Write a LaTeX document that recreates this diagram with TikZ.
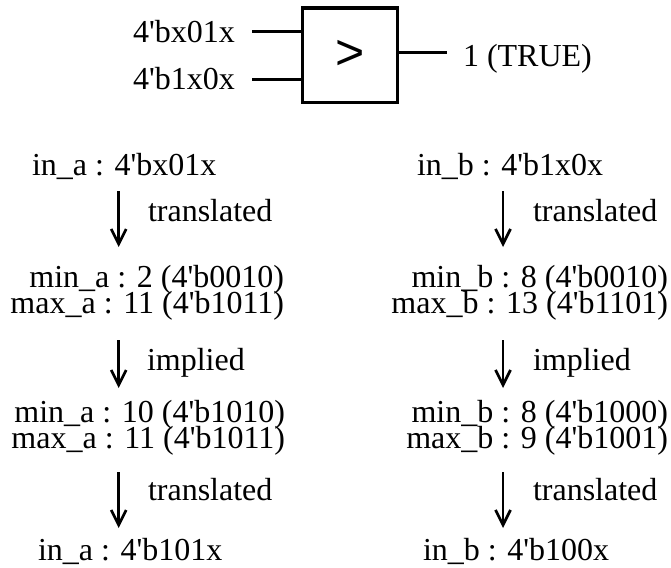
\documentclass[tikz,border=0pt]{standalone}
\usepackage{fontspec}
\newfontfamily\serifface{Liberation Serif}
\newfontfamily\sansface{Liberation Sans}
\usetikzlibrary{arrows.meta}
\begin{document}
\begin{tikzpicture}[x=1pt,y=-1pt,
  txt/.style={font=\serifface\fontsize{32}{26}\selectfont, inner sep=0pt, outer sep=0pt},
  flow/.style={line width=2.7pt, -{Straight Barb[length=15pt,width=15pt,line width=2.7pt]}},
  wire/.style={line width=3.3pt},
  gate/.style={draw, line width=3.3pt, minimum width=95pt, minimum height=94.3pt,
    inner sep=0pt, font=\sansface\fontsize{50}{50}\selectfont}]
\useasboundingbox (0,0) rectangle (671,567);

% comparator with its inputs and output
\node[gate] (cmp) at (349.7,55.2) {>};
\node[txt, anchor=base east] (ina0) at (235,43) {4'bx01x};
\node[txt, anchor=base east] (inb0) at (235,90) {4'b1x0x};
\node[txt, anchor=base west] (res) at (463,66.5) {1 (TRUE)};
\coordinate (w1) at (252,31.7);
\coordinate (w2) at (252,79.3);
\coordinate (w3) at (447,52.2);
\draw[wire] (w1) -- (w1 -| cmp.west);
\draw[wire] (w2) -- (w2 -| cmp.west);
\draw[wire] (w3 -| cmp.east) -- (w3);

% arrow columns
\coordinate (colA) at (118.7,0);
\coordinate (colB) at (503,0);

% left chain: in_a
\node[txt, anchor=base west] (ina) at (32,175) {in\_a : 4'bx01x};
\node[txt, anchor=base east] (mina) at (284,287) {min\_a : 2 (4'b0010)};
\node[txt, anchor=base east] (maxa) at (284,313) {max\_a : 11 (4'b1011)};
\node[txt, anchor=base east] (mina2) at (285,422) {min\_a : 10 (4'b1010)};
\node[txt, anchor=base east] (maxa2) at (285,448) {max\_a : 11 (4'b1011)};
\node[txt, anchor=base west] (outa) at (38,560) {in\_a : 4'b101x};

\node[txt, anchor=base west] (ta1) at (148,221) {translated};
\node[txt, anchor=base west] (ia) at (147,370) {implied};
\node[txt, anchor=base west] (ta2) at (148,500) {translated};

\draw[flow, shorten <=16pt, shorten >=40pt] (colA |- ina.base) -- (colA |- mina.base);
\draw[flow, shorten <=27pt, shorten >=34pt] (colA |- maxa.base) -- (colA |- mina2.base);
\draw[flow, shorten <=24pt, shorten >=32pt] (colA |- maxa2.base) -- (colA |- outa.base);

% right chain: in_b
\node[txt, anchor=base west] (inb) at (417,175) {in\_b : 4'b1x0x};
\node[txt, anchor=base east] (minb) at (668,287) {min\_b : 8 (4'b0010)};
\node[txt, anchor=base east] (maxb) at (668,313) {max\_b : 13 (4'b1101)};
\node[txt, anchor=base east] (minb2) at (668,422) {min\_b : 8 (4'b1000)};
\node[txt, anchor=base east] (maxb2) at (668,448) {max\_b : 9 (4'b1001)};
\node[txt, anchor=base west] (outb) at (423,560) {in\_b : 4'b100x};

\node[txt, anchor=base west] (tb1) at (533,221) {translated};
\node[txt, anchor=base west] (ib) at (533,370) {implied};
\node[txt, anchor=base west] (tb2) at (533,500) {translated};

\draw[flow, shorten <=16pt, shorten >=40pt] (colB |- inb.base) -- (colB |- minb.base);
\draw[flow, shorten <=27pt, shorten >=34pt] (colB |- maxb.base) -- (colB |- minb2.base);
\draw[flow, shorten <=24pt, shorten >=32pt] (colB |- maxb2.base) -- (colB |- outb.base);
\end{tikzpicture}
\end{document}
